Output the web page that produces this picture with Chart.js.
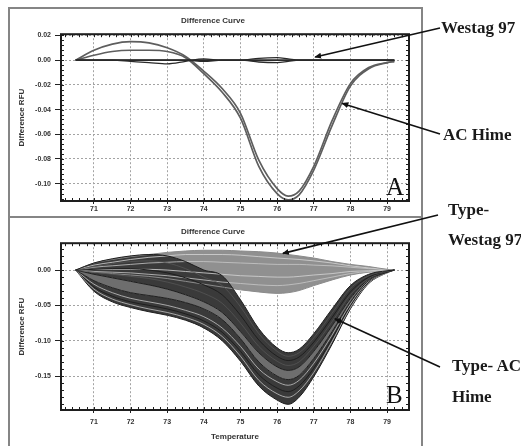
<!DOCTYPE html>
<html><head><meta charset="utf-8">
<script src="https://cdn.jsdelivr.net/npm/chart.js@4.4.1/dist/chart.umd.min.js"></script>
<style>
html,body{margin:0;padding:0;background:#fff;}
#wrap{position:relative;width:521px;height:446px;overflow:hidden;background:#fff;}
.panel{position:absolute;border:2px solid #858585;box-sizing:border-box;}
canvas{position:absolute;}
.lab{position:absolute;font-family:"Liberation Serif","Times New Roman",serif;font-weight:bold;font-size:17px;line-height:17px;color:#1a1a1a;white-space:nowrap;}
.big{position:absolute;font-family:"Liberation Serif","Times New Roman",serif;font-size:25px;line-height:25px;color:#111;}
svg{position:absolute;left:0;top:0;}
</style></head><body>
<div id="wrap">
  <div class="panel" style="left:8px;top:7px;width:415px;height:211px"></div>
  <div class="panel" style="left:8px;top:216px;width:415px;height:240px"></div>
  <canvas id="cA" width="411" height="207" style="left:10px;top:10px;width:411px;height:207px"></canvas>
  <canvas id="cB" width="411" height="228" style="left:10px;top:218px;width:411px;height:228px"></canvas>
  <svg id="arrows" width="521" height="446"></svg>
  <div class="lab" style="left:441px;top:19px">Westag 97</div>
  <div class="lab" style="left:443px;top:126px">AC Hime</div>
  <div class="lab" style="left:448px;top:201px">Type-</div>
  <div class="lab" style="left:448px;top:231px">Westag 97</div>
  <div class="lab" style="left:452px;top:357px">Type- AC</div>
  <div class="lab" style="left:452px;top:388px">Hime</div>
  <div class="big" style="left:386px;top:174px">A</div>
  <div class="big" style="left:386px;top:382px">B</div>
</div>
<script>
// ---------- data ----------
const temps = [70.5, 71, 71.5, 72, 72.5, 73, 73.5, 74, 74.5, 75, 75.5, 76, 76.3, 76.6, 77, 77.5, 78, 78.5, 79, 79.2];
const xTicks = [71, 72, 73, 74, 75, 76, 77, 78, 79];
const yTicksA = [0.02, 0.00, -0.02, -0.04, -0.06, -0.08, -0.10];
const yTicksB = [0.00, -0.05, -0.10, -0.15];

// Panel A
const aHime1   = [0, 0.008, 0.013, 0.015, 0.014, 0.010, 0.003, -0.009, -0.023, -0.043, -0.081, -0.104, -0.110, -0.106, -0.086, -0.049, -0.019, -0.006, -0.002, -0.001];
const aHime2   = [0, 0.004, 0.007, 0.008, 0.008, 0.007, 0.002, -0.011, -0.026, -0.047, -0.086, -0.108, -0.113, -0.109, -0.089, -0.053, -0.021, -0.007, -0.002, -0.001];
const aWestag1 = [0, 0, 0, -0.001, -0.002, -0.003, -0.001, 0.001, 0, 0, 0.0015, 0.002, 0.001, 0, 0, 0, 0, 0, 0, 0];
const aWestag2 = [0, 0, 0, 0, 0, 0, 0, -0.001, 0, 0, -0.0015, -0.002, -0.001, 0, 0, 0, 0, 0, 0, 0];
const aWestag3 = [0, 0, 0, 0, 0, 0, 0, 0, 0, 0, 0, 0, 0, 0, 0, 0, 0, 0, 0, 0];

// Panel B – Type AC Hime
const bHimeU1 = [0, 0.010, 0.016, 0.020, 0.022, 0.020, 0.012, 0.000, -0.008, -0.042, -0.083, -0.110, -0.117, -0.112, -0.090, -0.055, -0.022, -0.006, -0.001, 0];
const bHimeU2 = [0, 0.005, 0.009, 0.012, 0.013, 0.010, 0.002, -0.010, -0.022, -0.052, -0.090, -0.115, -0.122, -0.117, -0.096, -0.061, -0.026, -0.008, -0.002, 0];
const bHimeU3 = [0, 0.001, 0.002, 0.002, 0.000, -0.004, -0.011, -0.021, -0.035, -0.064, -0.099, -0.122, -0.128, -0.123, -0.102, -0.067, -0.031, -0.010, -0.002, 0];
const bHimeU4 = [0, -0.003, -0.006, -0.009, -0.012, -0.017, -0.024, -0.033, -0.047, -0.075, -0.108, -0.129, -0.135, -0.130, -0.108, -0.073, -0.035, -0.012, -0.002, 0];
const bHimeU5 = [0, -0.006, -0.011, -0.016, -0.021, -0.027, -0.035, -0.045, -0.060, -0.087, -0.117, -0.137, -0.142, -0.137, -0.115, -0.079, -0.040, -0.013, -0.003, 0];
const bHimeL1 = [0, -0.015, -0.025, -0.032, -0.036, -0.040, -0.046, -0.055, -0.070, -0.097, -0.130, -0.150, -0.155, -0.149, -0.125, -0.087, -0.045, -0.015, -0.003, 0];
const bHimeL2 = [0, -0.020, -0.032, -0.040, -0.045, -0.050, -0.057, -0.066, -0.082, -0.108, -0.140, -0.158, -0.163, -0.156, -0.132, -0.092, -0.048, -0.016, -0.003, 0];
const bHimeL3 = [0, -0.024, -0.037, -0.045, -0.050, -0.055, -0.062, -0.072, -0.088, -0.115, -0.148, -0.167, -0.172, -0.164, -0.139, -0.097, -0.050, -0.017, -0.003, 0];
const bHimeL4 = [0, -0.027, -0.041, -0.049, -0.055, -0.060, -0.067, -0.077, -0.094, -0.122, -0.156, -0.175, -0.180, -0.171, -0.145, -0.101, -0.053, -0.018, -0.004, 0];
const bHimeL5 = [0, -0.030, -0.045, -0.053, -0.059, -0.064, -0.071, -0.082, -0.100, -0.129, -0.164, -0.184, -0.190, -0.180, -0.151, -0.105, -0.055, -0.019, -0.004, 0];

// Panel B – Type Westag 97
const bWestag1 = [0, 0.010, 0.015, 0.019, 0.022, 0.025, 0.027, 0.028, 0.028, 0.027, 0.026, 0.024, 0.022, 0.020, 0.017, 0.012, 0.008, 0.005, 0.001, 0];
const bWestag2 = [0, 0.007, 0.011, 0.015, 0.018, 0.020, 0.022, 0.022, 0.022, 0.021, 0.019, 0.017, 0.016, 0.015, 0.013, 0.010, 0.006, 0.003, 0.001, 0];
const bWestag3 = [0, 0.004, 0.006, 0.008, 0.010, 0.011, 0.012, 0.012, 0.011, 0.010, 0.009, 0.008, 0.008, 0.008, 0.007, 0.006, 0.004, 0.002, 0.001, 0];
const bWestag4 = [0, 0.001, 0.001, 0.001, 0.001, 0.000, -0.002, -0.004, -0.006, -0.008, -0.009, -0.010, -0.010, -0.009, -0.007, -0.005, -0.002, -0.001, 0, 0];
const bWestag5 = [0, -0.002, -0.003, -0.004, -0.006, -0.008, -0.011, -0.014, -0.017, -0.019, -0.021, -0.022, -0.021, -0.019, -0.015, -0.010, -0.005, -0.002, -0.001, 0];
const bWestag6 = [0, -0.003, -0.005, -0.007, -0.009, -0.012, -0.016, -0.020, -0.024, -0.028, -0.031, -0.033, -0.032, -0.029, -0.022, -0.014, -0.007, -0.003, -0.001, 0];

// ---------- helpers ----------
const pts = arr => temps.map((t, i) => ({x: t, y: arr[i]}));
function ds(arr, color, width, fill, bg) {
  return {data: pts(arr), borderColor: color, borderWidth: width, pointRadius: 0,
          cubicInterpolationMode: 'monotone', fill: fill === undefined ? false : fill,
          backgroundColor: bg || 'transparent'};
}

const framePlugin = {
  id: 'frame',
  afterDraw(chart, args, opts) {
    const {ctx, chartArea: a, scales: {x, y}} = chart;
    ctx.save();
    ctx.setLineDash([]);
    ctx.strokeStyle = '#1e1e1e';
    ctx.lineWidth = 1;
    ctx.beginPath();
    for (let i = Math.ceil(x.min / opts.xMinor - 1e-9); i * opts.xMinor <= x.max + 1e-9; i++) {
      const px = Math.round(x.getPixelForValue(i * opts.xMinor)) + 0.5;
      ctx.moveTo(px, a.top); ctx.lineTo(px, a.top + 3);
      ctx.moveTo(px, a.bottom); ctx.lineTo(px, a.bottom - 3);
    }
    for (let i = Math.ceil(y.min / opts.yMinor - 1e-9); i * opts.yMinor <= y.max + 1e-9; i++) {
      const py = Math.round(y.getPixelForValue(i * opts.yMinor)) + 0.5;
      ctx.moveTo(a.left, py); ctx.lineTo(a.left + 3, py);
      ctx.moveTo(a.right, py); ctx.lineTo(a.right - 3, py);
    }
    ctx.stroke();
    ctx.lineWidth = 2;
    ctx.strokeRect(a.left, a.top, a.right - a.left, a.bottom - a.top);
    ctx.restore();
  }
};

const tickFont = {family: 'Liberation Sans, Arial, sans-serif', size: 7, weight: 'bold'};
const titleFont = {family: 'Liberation Sans, Arial, sans-serif', size: 8, weight: 'bold'};

function makeOptions(cfg) {
  return {
    responsive: false, animation: false,
    layout: {padding: {left: 7, right: 12, top: 0, bottom: 0}},
    plugins: {
      legend: {display: false}, tooltip: {enabled: false},
      filler: {drawTime: 'beforeDatasetsDraw'},
      title: {display: true, text: 'Difference Curve', font: titleFont, color: '#333',
              padding: {top: cfg.titleTop, bottom: cfg.titleBottom}},
      frame: {xMinor: 0.2, yMinor: cfg.yMinor}
    },
    scales: {
      x: {type: 'linear', min: 70.1, max: 79.6,
          afterBuildTicks: s => { s.ticks = xTicks.map(v => ({value: v})); },
          afterFit: s => { s.height = cfg.xHeight; },
          ticks: {font: tickFont, color: '#333', autoSkip: false, maxRotation: 0, padding: cfg.xPad,
                  callback: v => String(v)},
          grid: {color: '#a3a3a3', lineWidth: 1, drawTicks: true, tickLength: 3, tickColor: '#222'},
          border: {display: false, dash: [2, 2]},
          title: {display: cfg.xTitle, text: 'Temperature', font: titleFont, color: '#333',
                  padding: {top: 0, bottom: 4}}
      },
      y: {type: 'linear', min: cfg.yMin, max: cfg.yMax,
          afterBuildTicks: s => { s.ticks = cfg.yTicks.map(v => ({value: v})); },
          afterFit: s => { s.width = 44; },
          ticks: {font: tickFont, color: '#333', autoSkip: false, padding: 4,
                  callback: v => v.toFixed(2)},
          grid: {color: '#a3a3a3', lineWidth: 1, drawTicks: true, tickLength: 6, tickColor: '#222'},
          border: {display: false, dash: [2, 2]},
          title: {display: true, text: 'Difference RFU', font: titleFont, color: '#333',
                  padding: {top: 0, bottom: 0}}
      }
    }
  };
}

// ---------- chart A ----------
const chartA = new Chart(document.getElementById('cA'), {
  type: 'line',
  data: {datasets: [
    ds(aWestag1, '#2a2a2a', 1.3),
    ds(aWestag2, '#2a2a2a', 1.3),
    ds(aWestag3, '#2a2a2a', 1.6),
    ds(aHime1, '#5e5e5e', 1.7),
    ds(aHime2, '#5e5e5e', 1.7)
  ]},
  options: makeOptions({titleTop: 6, titleBottom: 8.6, yMin: -0.114, yMax: 0.021, yTicks: yTicksA,
                        yMinor: 0.004, xHeight: 16, xPad: 1, xTitle: false}),
  plugins: [framePlugin]
});

// ---------- chart B ----------
const dark = '#3a3a3a';
const chartB = new Chart(document.getElementById('cB'), {
  type: 'line',
  data: {datasets: [
    ds(bHimeU1, '#1e1e1e', 1, {target: 4}, dark),      // 0
    ds(bHimeU2, '#555555', 0.8),                       // 1
    ds(bHimeU3, '#1e1e1e', 1),                         // 2
    ds(bHimeU4, '#555555', 0.8),                       // 3
    ds(bHimeU5, '#1e1e1e', 1, {target: 5}, '#6e6e6e'), // 4
    ds(bHimeL1, '#1e1e1e', 1, {target: 9}, dark),      // 5
    ds(bHimeL2, '#c4c4c4', 0.8),                       // 6
    ds(bHimeL3, '#1e1e1e', 1),                         // 7
    ds(bHimeL4, '#c4c4c4', 0.8),                       // 8
    ds(bHimeL5, '#1e1e1e', 1),                         // 9
    ds(bWestag1, '#8a8a8a', 1, {target: 15}, '#909090'), // 10
    ds(bWestag2, '#d6d6d6', 0.8),                      // 11
    ds(bWestag3, '#c8c8c8', 0.8),                      // 12
    ds(bWestag4, '#d6d6d6', 0.8),                      // 13
    ds(bWestag5, '#c8c8c8', 0.8),                      // 14
    ds(bWestag6, '#8a8a8a', 1)                         // 15
  ]},
  options: makeOptions({titleTop: 8.8, titleBottom: 6.8, yMin: -0.198, yMax: 0.038, yTicks: yTicksB,
                        yMinor: 0.01, xHeight: 36, xPad: 5, xTitle: true}),
  plugins: [framePlugin]
});

// ---------- annotation arrows ----------
const arrowSpecs = [
  {chart: chartA, left: 10, top: 10, from: [440, 28], t: 77.04, v: 0.0025},
  {chart: chartA, left: 10, top: 10, from: [440, 134], t: 77.78, v: -0.035},
  {chart: chartB, left: 10, top: 218, from: [438, 215], t: 76.16, v: 0.0236},
  {chart: chartB, left: 10, top: 218, from: [440, 367], t: 77.58, v: -0.069}
];
const svg = document.getElementById('arrows');
let html = '<defs><marker id="ah" markerWidth="7" markerHeight="6" refX="6" refY="3" orient="auto" markerUnits="userSpaceOnUse"><path d="M0,0 L7,3 L0,6 z" fill="#111"/></marker></defs>';
arrowSpecs.forEach(s => {
  const x2 = s.left + s.chart.scales.x.getPixelForValue(s.t);
  const y2 = s.top + s.chart.scales.y.getPixelForValue(s.v);
  html += `<line x1="${s.from[0]}" y1="${s.from[1]}" x2="${x2}" y2="${y2}" stroke="#111" stroke-width="1.6" marker-end="url(#ah)"/>`;
});
svg.innerHTML = html;
</script>
</body></html>
